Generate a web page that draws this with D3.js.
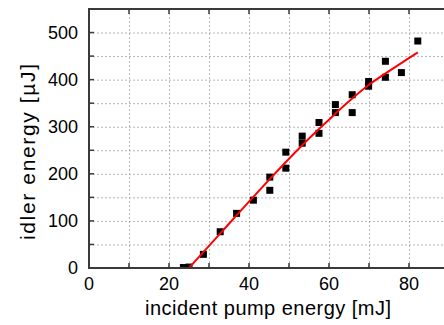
<!DOCTYPE html>
<html>
<head>
<meta charset="utf-8">
<script src="https://cdn.jsdelivr.net/npm/d3@7"></script>
<style>
  body { margin: 0; background: #fff; }
  svg { display: block; font-family: "Liberation Sans", Arial, sans-serif; }
</style>
</head>
<body>
<svg id="chart" width="444" height="325"></svg>
<script>
// Mesures (energia de bombeig [mJ], energia idler [µJ])
var pumpEnergy = [23.6, 25.0, 28.6, 32.8, 36.9, 41.1, 45.2, 45.2, 49.2, 49.2, 53.3, 53.3, 57.5, 57.5,
                  61.6, 61.6, 65.8, 65.8, 69.9, 69.9, 74.1, 74.1, 78.1, 82.2];
var idlerEnergy = [1, 2, 29, 77, 116, 144, 193, 165, 246, 212, 280, 265, 309, 286,
                   347, 330, 368, 330, 396, 386, 439, 405, 415, 482];

// Corba d'ajust
var fitPump  = [25, 30, 35, 40, 45, 50, 55, 60, 65, 70, 75, 82.2];
var fitIdler = [0, 47, 94, 141, 187, 232, 275, 315, 354, 389, 418, 458];

var xTicks = [0, 20, 40, 60, 80];
var yTicks = [0, 100, 200, 300, 400, 500];

var svg = d3.select("#chart");
var plotLeft = 89, plotTop = 9, plotBottom = 268;

var x = d3.scaleLinear().domain([0, 90]).range([plotLeft, plotLeft + 360]);
var y = d3.scaleLinear().domain([0, 550]).range([plotBottom, plotTop]);

// Graella
var grid = svg.append("g").attr("stroke", "#b4b4b4").attr("stroke-dasharray", "2,2").attr("stroke-width", 1);
grid.selectAll("line.v").data(d3.range(10, 90, 10)).enter().append("line")
    .attr("x1", function(d) { return x(d) + 0.5; }).attr("x2", function(d) { return x(d) + 0.5; })
    .attr("y1", plotTop).attr("y2", plotBottom);
grid.selectAll("line.h").data(d3.range(50, 550, 50)).enter().append("line")
    .attr("y1", function(d) { return y(d) + 0.5; }).attr("y2", function(d) { return y(d) + 0.5; })
    .attr("x1", plotLeft).attr("x2", 444);

// Retall de l'àrea de dibuix
svg.append("clipPath").attr("id", "clip").append("rect")
    .attr("x", plotLeft).attr("y", plotTop).attr("width", 444 - plotLeft).attr("height", plotBottom - plotTop);

var plot = svg.append("g").attr("clip-path", "url(#clip)");

var data = pumpEnergy.map(function(d, i) { return [d, idlerEnergy[i]]; });
var side = 7;
plot.selectAll("rect.pt").data(data).enter().append("rect")
    .attr("x", function(d) { return x(d[0]) - side / 2; })
    .attr("y", function(d) { return y(d[1]) - side / 2; })
    .attr("width", side).attr("height", side)
    .attr("fill", "#000");

var fit = fitPump.map(function(d, i) { return [d, fitIdler[i]]; });
var line = d3.line().x(function(d) { return x(d[0]); }).y(function(d) { return y(d[1]); })
    .curve(d3.curveMonotoneX);
plot.append("path").datum(fit).attr("d", line)
    .attr("fill", "none").attr("stroke", "#ff0000").attr("stroke-width", 2);

// Eixos
var axisColor = "#3a3a3a";
var frame = svg.append("g").attr("stroke", axisColor).attr("stroke-width", 2);
frame.append("line").attr("x1", plotLeft).attr("x2", plotLeft).attr("y1", plotTop).attr("y2", plotBottom + 1);
frame.append("line").attr("x1", plotLeft - 1).attr("x2", 444).attr("y1", plotTop).attr("y2", plotTop);
frame.append("line").attr("x1", plotLeft - 1).attr("x2", 444).attr("y1", plotBottom).attr("y2", plotBottom);

var ticks = svg.append("g").attr("stroke", axisColor).attr("stroke-width", 1.5);
d3.range(10, 90, 10).forEach(function(d) {
    ticks.append("line").attr("x1", x(d)).attr("x2", x(d)).attr("y1", plotTop).attr("y2", plotTop + 5);
    ticks.append("line").attr("x1", x(d)).attr("x2", x(d)).attr("y1", plotBottom).attr("y2", plotBottom - 5);
});
d3.range(50, 550, 50).forEach(function(d) {
    ticks.append("line").attr("x1", plotLeft).attr("x2", plotLeft + 5).attr("y1", y(d)).attr("y2", y(d));
});

// Etiquetes
svg.selectAll("text.xt").data(xTicks).enter().append("text")
    .attr("x", function(d) { return x(d); }).attr("y", 290)
    .attr("text-anchor", "middle").attr("font-size", 18).attr("fill", "#000")
    .text(function(d) { return d; });
svg.selectAll("text.yt").data(yTicks).enter().append("text")
    .attr("x", 78).attr("y", function(d) { return y(d); }).attr("dy", "0.35em")
    .attr("text-anchor", "end").attr("font-size", 18).attr("fill", "#000")
    .text(function(d) { return d; });

svg.append("text").attr("x", 268).attr("y", 315)
    .attr("text-anchor", "middle").attr("font-size", 20).attr("fill", "#000")
    .attr("textLength", 246).attr("lengthAdjust", "spacing")
    .text("incident pump energy [mJ]");
svg.append("text").attr("transform", "translate(35,152) rotate(-90)")
    .attr("text-anchor", "middle").attr("font-size", 21).attr("fill", "#000")
    .attr("textLength", 176).attr("lengthAdjust", "spacing")
    .text("idler energy [µJ]");
</script>
</body>
</html>
